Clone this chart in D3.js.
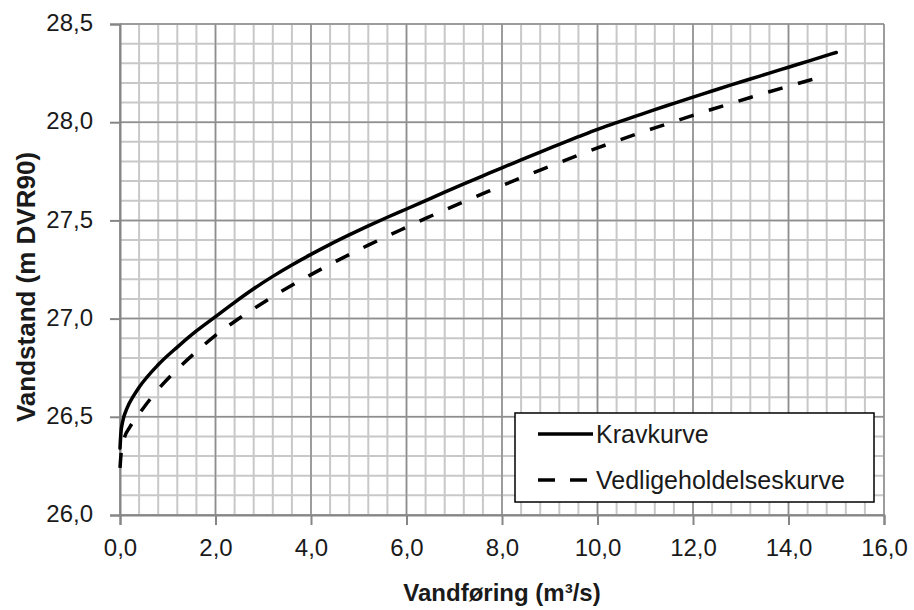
<!DOCTYPE html>
<html>
<head>
<meta charset="utf-8">
<script src="https://cdn.jsdelivr.net/npm/d3@7"></script>
<style>
  body { margin: 0; background: #fff; }
  svg { display: block; font-family: "Liberation Sans", Arial, sans-serif; }
</style>
</head>
<body>
<svg id="chart" width="914" height="610"></svg>
<script>
// values
const flowKrav = [0, 0.02, 0.06, 0.15, 0.28, 0.4, 0.8, 1.2, 1.6, 2.0, 2.4, 2.8, 3.2, 3.6, 4.0, 4.4, 4.8, 5.2, 5.6, 6.0,
  6.4, 6.8, 7.2, 7.6, 8.0, 8.4, 8.8, 9.2, 9.6, 10.0, 10.4, 10.8, 11.2, 11.6, 12.0, 12.4, 12.8, 13.2, 13.6, 14.0, 14.4, 14.8, 15.0];
const levelKrav = [26.34, 26.42, 26.48, 26.545, 26.605, 26.65, 26.765, 26.855, 26.937, 27.01, 27.083, 27.152, 27.215, 27.273, 27.327, 27.378, 27.426, 27.472, 27.516, 27.558,
  27.601, 27.644, 27.686, 27.727, 27.768, 27.808, 27.848, 27.887, 27.926, 27.964, 27.998, 28.031, 28.064, 28.096, 28.128, 28.159, 28.19, 28.22, 28.25, 28.28, 28.31, 28.34, 28.355];

const flowVedl = [0, 0.03, 0.1, 0.2, 0.4, 0.8, 1.2, 1.6, 2.0, 2.4, 2.8, 3.2, 3.6, 4.0, 4.4, 4.8, 5.2, 5.6, 6.0,
  6.4, 6.8, 7.2, 7.6, 8.0, 8.4, 8.8, 9.2, 9.6, 10.0, 10.4, 10.8, 11.2, 11.6, 12.0, 12.4, 12.8, 13.2, 13.6, 14.0, 14.4, 14.7];
const levelVedl = [26.24, 26.33, 26.40, 26.445, 26.515, 26.64, 26.742, 26.832, 26.915, 26.985, 27.05, 27.112, 27.17, 27.224, 27.276, 27.326, 27.374, 27.42, 27.465,
  27.51, 27.553, 27.595, 27.636, 27.677, 27.717, 27.756, 27.794, 27.832, 27.869, 27.904, 27.938, 27.971, 28.003, 28.035, 28.066, 28.096, 28.126, 28.155, 28.183, 28.211, 28.232];

const xTicks = [0, 2, 4, 6, 8, 10, 12, 14, 16];
const yTicks = [26.0, 26.5, 27.0, 27.5, 28.0, 28.5];
const seriesNames = ['Kravkurve', 'Vedligeholdelseskurve'];

const plotLeft = 120, plotRight = 884, plotTop = 24, plotBottom = 515;
const svg = d3.select('#chart');

const x = d3.scaleLinear().domain([0, 16]).range([plotLeft, plotRight]);
const y = d3.scaleLinear().domain([26, 28.5]).range([plotBottom, plotTop]);
const fmt = v => d3.format('.1f')(v).replace('.', ',');

// minor grid (5 subdivisions per major step)
const xMinor = d3.range(0, 16.001, 0.4);
const yMinor = d3.range(26, 28.501, 0.1);
const grid = svg.append('g');
grid.selectAll('line.vx')
    .data(xMinor)
    .enter().append('line')
    .attr('x1', d => x(d)).attr('x2', d => x(d))
    .attr('y1', plotTop).attr('y2', plotBottom)
    .attr('stroke', '#c8c8c8').attr('stroke-width', 2);
grid.selectAll('line.hy')
    .data(yMinor)
    .enter().append('line')
    .attr('x1', plotLeft).attr('x2', plotRight)
    .attr('y1', d => y(d)).attr('y2', d => y(d))
    .attr('stroke', '#c8c8c8').attr('stroke-width', 2);
// major grid
grid.selectAll('line.mx')
    .data(xTicks)
    .enter().append('line')
    .attr('x1', d => x(d)).attr('x2', d => x(d))
    .attr('y1', plotTop).attr('y2', plotBottom)
    .attr('stroke', '#8e8e8e').attr('stroke-width', 1.5);
grid.selectAll('line.my')
    .data(yTicks)
    .enter().append('line')
    .attr('x1', plotLeft).attr('x2', plotRight)
    .attr('y1', d => y(d)).attr('y2', d => y(d))
    .attr('stroke', '#8e8e8e').attr('stroke-width', 1.5);

// axes
const xAxis = svg.append('g')
    .attr('transform', `translate(0,${plotBottom})`)
    .call(d3.axisBottom(x).tickValues(xTicks).tickFormat(fmt).tickSize(10).tickPadding(14));
const yAxis = svg.append('g')
    .attr('transform', `translate(${plotLeft},0)`)
    .call(d3.axisLeft(y).tickValues(yTicks).tickFormat(fmt).tickSize(10).tickPadding(17));
[xAxis, yAxis].forEach(a => {
    a.select('.domain').attr('stroke', '#868686').attr('stroke-width', 2);
    a.selectAll('.tick line').attr('stroke', '#868686').attr('stroke-width', 2);
    a.selectAll('.tick text')
        .attr('fill', '#1a1a1a')
        .style('font-size', '24px')
        .style('font-family', '"Liberation Sans", Arial, sans-serif');
});
yAxis.selectAll('.tick text').attr('dy', '0.28em');

// axis titles
svg.append('text')
    .attr('x', (plotLeft + plotRight) / 2)
    .attr('y', 601)
    .attr('text-anchor', 'middle')
    .style('font-size', '24px')
    .style('font-weight', 'bold')
    .attr('fill', '#1a1a1a')
    .text('Vandføring (m³/s)');
svg.append('text')
    .attr('transform', 'translate(35,287) rotate(-90)')
    .attr('text-anchor', 'middle')
    .style('font-size', '26px')
    .style('font-weight', 'bold')
    .attr('fill', '#1a1a1a')
    .text('Vandstand (m DVR90)');

// curves
const line = d3.line()
    .x(d => x(d[0]))
    .y(d => y(d[1]))
    .curve(d3.curveMonotoneX);

svg.append('path')
    .datum(d3.zip(flowKrav, levelKrav))
    .attr('d', line)
    .attr('fill', 'none')
    .attr('stroke', '#000')
    .attr('stroke-width', 3.5)
    .attr('stroke-linecap', 'round');

svg.append('path')
    .datum(d3.zip(flowVedl, levelVedl))
    .attr('d', line)
    .attr('fill', 'none')
    .attr('stroke', '#000')
    .attr('stroke-width', 3.5)
    .attr('stroke-dasharray', '15,16');

// legend
const legend = svg.append('g').attr('transform', 'translate(515,413)');
legend.append('rect')
    .attr('width', 359).attr('height', 89)
    .attr('fill', '#fff')
    .attr('stroke', '#000')
    .attr('stroke-width', 1.5);
seriesNames.forEach((name, i) => {
    const ly = 21 + i * 46;
    legend.append('line')
        .attr('x1', 23).attr('x2', 78)
        .attr('y1', ly).attr('y2', ly)
        .attr('stroke', '#000')
        .attr('stroke-width', 3.5)
        .attr('stroke-dasharray', i === 0 ? null : '17,15');
    legend.append('text')
        .attr('x', 81)
        .attr('y', ly)
        .attr('dy', '0.36em')
        .style('font-size', '25px')
        .attr('fill', '#1a1a1a')
        .text(name);
});
</script>
</body>
</html>
